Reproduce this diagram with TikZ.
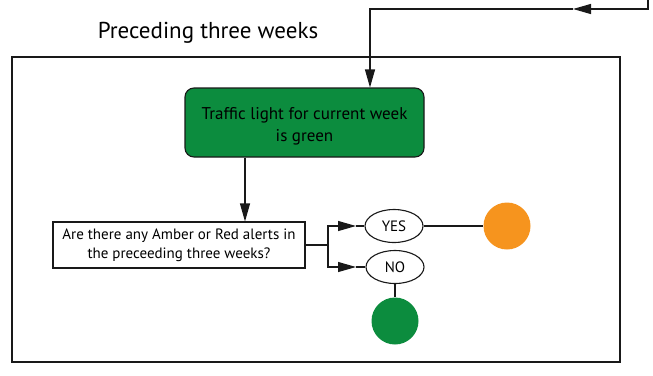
\documentclass[tikz,border=0pt]{standalone}
\usepackage{fontspec}
\setmainfont{PT Sans}
\usetikzlibrary{arrows.meta,shapes.geometric}
\definecolor{tlgreen}{RGB}{12,140,62}
\definecolor{tlorange}{RGB}{246,148,30}
\tikzset{
  line/.style={draw=black!90, line width=1.1bp},
  arr/.style={line, -{Triangle[length=18bp,width=10bp]}},
  greenbox/.style={line, fill=tlgreen, rounded corners=9bp, minimum width=239bp, minimum height=69bp, align=center, font=\fontsize{17bp}{22bp}\selectfont, inner sep=0pt},
  qbox/.style={line, fill=white, minimum width=252bp, minimum height=46bp, align=center, font=\fontsize{15bp}{19bp}\selectfont, inner sep=0pt},
  answer/.style={line, ellipse, minimum width=58bp, minimum height=33bp, inner sep=0pt, font=\fontsize{15bp}{17bp}\selectfont},
  light/.style={circle, minimum size=47bp, inner sep=0pt},
}
\begin{document}
\begin{tikzpicture}[x=1bp,y=-1bp]
\useasboundingbox (0,0) rectangle (653,375);
\node[font=\fontsize{23bp}{26bp}\selectfont, anchor=center] (title) at (208,33) {Preceding three weeks};
\node[line, minimum width=608bp, minimum height=305bp, inner sep=0pt] (frame) at (316,209.5) {};
\node[greenbox] (tl) at (304.5,122.5) {\rule{0pt}{19bp}Traffic light for current week\\is green};
\node[qbox] (q) at (179,245) {Are there any Amber or Red alerts in\\the preceeding three weeks?};
\node[answer] (yes) at (394,226) {YES};
\node[answer] (no) at (395,267) {NO};
\node[light, fill=tlorange] (amber) at (507,226) {};
\node[light, fill=tlgreen] (greenl) at (395,321) {};
\coordinate (start) at (648,-1);
\coordinate (turn) at (648,9);
\coordinate (mid) at (573,9);
\coordinate (corner) at (370,9);
\coordinate (split) at (328,245);
\coordinate (yestip) at (356,226);
\coordinate (notip) at (356,267);
\draw[arr] (start) -- (turn) -- (mid);
\draw[arr] (mid) -- (corner) -- (tl.north -| corner);
\draw[arr] (tl.south -| 245,0) -- (q.north -| 245,0);
\draw[line] (q.east) -- (split);
\draw[arr] (split) |- (yestip);
\draw[line] (yestip) -- (yes.west);
\draw[arr] (split) |- (notip);
\draw[line] (notip) -- (no.west);
\draw[line] (yes.east) -- (amber.west);
\draw[line] (no.south) -- (greenl.north);
\end{tikzpicture}
\end{document}
